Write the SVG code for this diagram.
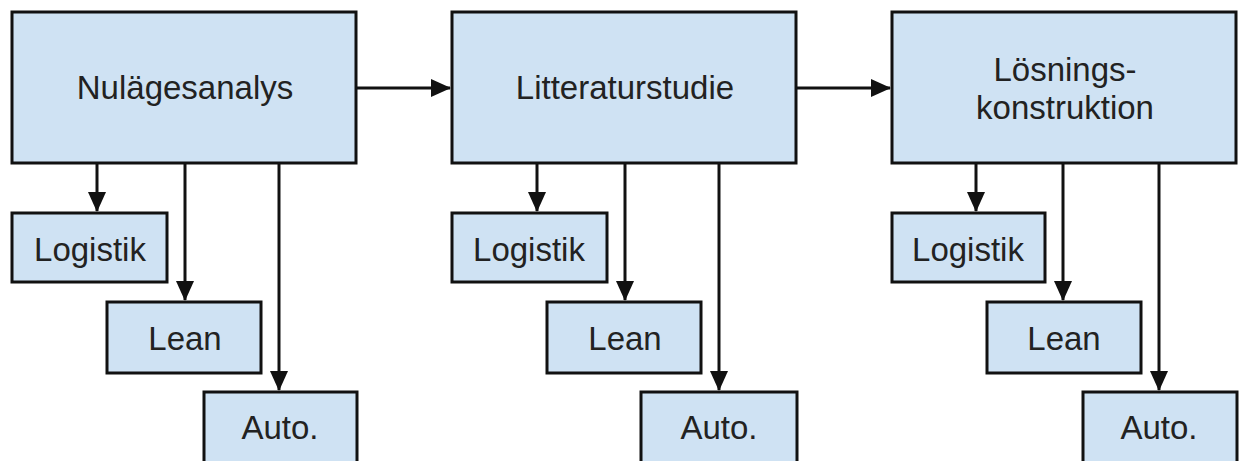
<svg xmlns="http://www.w3.org/2000/svg" width="1239" height="461" viewBox="0 0 1239 461">
<style>
.box{fill:#cfe2f3;stroke:#111;stroke-width:3}
.lbl{font-family:"Liberation Sans",Arial,sans-serif;font-size:33px;fill:#222;text-anchor:middle}
.con{stroke:#111;stroke-width:3;fill:none;marker-end:url(#ah)}
</style>
<defs>
<marker id="ah" markerUnits="userSpaceOnUse" markerWidth="20" markerHeight="18" refX="19" refY="9" orient="auto">
<path d="M0,0 L20,9 L0,18 z" fill="#111"/>
</marker>
</defs>
<rect width="1239" height="461" fill="#fff"/>
<g id="connectors">
<line class="con" x1="356" y1="88" x2="450" y2="88"/>
<line class="con" x1="796" y1="88" x2="890" y2="88"/>
<line class="con" x1="97" y1="163" x2="97" y2="211"/>
<line class="con" x1="185" y1="163" x2="185" y2="300"/>
<line class="con" x1="279" y1="163" x2="279" y2="390"/>
<line class="con" x1="537" y1="163" x2="537" y2="211"/>
<line class="con" x1="625" y1="163" x2="625" y2="300"/>
<line class="con" x1="719" y1="163" x2="719" y2="390"/>
<line class="con" x1="976" y1="163" x2="976" y2="211"/>
<line class="con" x1="1063" y1="163" x2="1063" y2="300"/>
<line class="con" x1="1159" y1="163" x2="1159" y2="390"/>
</g>
<g id="nulagesanalys"><rect class="box" x="12" y="12" width="344" height="151"/><text class="lbl" x="185" y="99">Nulägesanalys</text></g>
<g id="litteraturstudie"><rect class="box" x="452" y="12" width="344" height="151"/><text class="lbl" x="625" y="99">Litteraturstudie</text></g>
<g id="losningskonstruktion"><rect class="box" x="892" y="12" width="344" height="151"/><text class="lbl" x="1065" y="81">Lösnings-</text><text class="lbl" x="1065" y="119">konstruktion</text></g>
<g id="logistik1"><rect class="box" x="12" y="213" width="155" height="69"/><text class="lbl" x="90" y="261">Logistik</text></g>
<g id="lean1"><rect class="box" x="107" y="302" width="154" height="71"/><text class="lbl" x="185" y="350">Lean</text></g>
<g id="auto1"><rect class="box" x="204" y="392" width="153" height="72"/><text class="lbl" x="280" y="439">Auto.</text></g>
<g id="logistik2"><rect class="box" x="452" y="213" width="155" height="69"/><text class="lbl" x="529" y="261">Logistik</text></g>
<g id="lean2"><rect class="box" x="547" y="302" width="154" height="71"/><text class="lbl" x="625" y="350">Lean</text></g>
<g id="auto2"><rect class="box" x="641" y="392" width="156" height="72"/><text class="lbl" x="719" y="439">Auto.</text></g>
<g id="logistik3"><rect class="box" x="892" y="213" width="153" height="69"/><text class="lbl" x="968" y="261">Logistik</text></g>
<g id="lean3"><rect class="box" x="987" y="302" width="154" height="71"/><text class="lbl" x="1064" y="350">Lean</text></g>
<g id="auto3"><rect class="box" x="1083" y="392" width="154" height="72"/><text class="lbl" x="1159" y="439">Auto.</text></g>
</svg>
